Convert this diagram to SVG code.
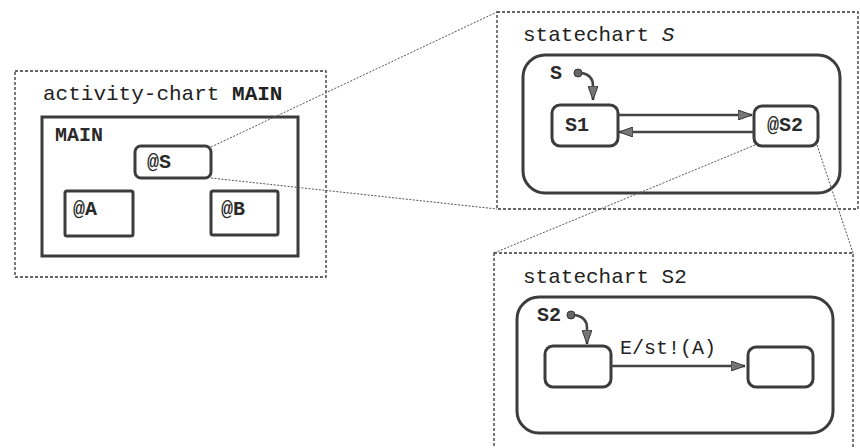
<svg xmlns="http://www.w3.org/2000/svg" width="860" height="448" viewBox="0 0 860 448">
  <style>
    .frame { fill: none; stroke: #333; stroke-width: 1.3; stroke-dasharray: 3 2; }
    .box { fill: #fff; stroke: #3c3c3c; stroke-width: 3; }
    .link { fill: none; stroke: #555; stroke-width: 1; stroke-dasharray: 2 1.5; }
    .flow { fill: none; stroke: #444; stroke-width: 2.6; }
    .title { font-family: "Liberation Mono", "Courier New", monospace; font-size: 21px; fill: #222; }
    .lbl { font-family: "Liberation Mono", "Courier New", monospace; font-size: 20px; font-weight: bold; fill: #2a2a2a; }
    .evt { font-family: "Liberation Mono", "Courier New", monospace; font-size: 20px; fill: #222; }
    .dot { fill: #666; stroke: #333; stroke-width: 1; }
  </style>
  <defs>
    <marker id="head" viewBox="0 0 14 10" refX="14" refY="5" markerWidth="14" markerHeight="10" markerUnits="userSpaceOnUse" orient="auto">
      <path d="M0,0 L14,5 L0,10 z" fill="#777" stroke="#333" stroke-width="1"/>
    </marker>
  </defs>
  <rect width="860" height="448" fill="#fff"/>

  <!-- activity-chart MAIN -->
  <g id="activity-main">
    <rect class="frame" x="15" y="71" width="311" height="206"/>
    <text class="title" x="43" y="100">activity-chart <tspan font-weight="bold">MAIN</tspan></text>
    <rect class="box" x="42" y="117" width="256" height="139"/>
    <text class="lbl" x="55" y="141">MAIN</text>
  </g>
  <g id="node-S">
    <rect class="box" x="135" y="146" width="76" height="32" rx="6"/>
    <text class="lbl" x="147" y="168">@S</text>
  </g>
  <g id="node-A">
    <rect class="box" x="65" y="191" width="68" height="45" rx="2"/>
    <text class="lbl" x="73" y="215">@A</text>
  </g>
  <g id="node-B">
    <rect class="box" x="211" y="191" width="67" height="44" rx="2"/>
    <text class="lbl" x="221" y="215">@B</text>
  </g>

  <!-- statechart S -->
  <g id="statechart-S">
    <rect class="frame" x="497" y="12" width="361" height="197"/>
    <text class="title" x="523" y="41">statechart <tspan font-style="italic">S</tspan></text>
    <rect class="box" x="523" y="55" width="317" height="138" rx="22"/>
    <text class="lbl" x="550" y="79">S</text>
    <circle class="dot" cx="578" cy="73" r="4"/>
  </g>
  <g id="node-S1">
    <rect class="box" x="552" y="105" width="66" height="41" rx="8"/>
    <text class="lbl" x="565" y="131">S1</text>
  </g>
  <g id="node-S2ref">
    <rect class="box" x="754" y="106" width="64" height="40" rx="8"/>
    <text class="lbl" x="767" y="131">@S2</text>
  </g>

  <!-- statechart S2 -->
  <g id="statechart-S2">
    <rect class="frame" x="494" y="253" width="359" height="210"/>
    <text class="title" x="523" y="283">statechart S2</text>
    <rect class="box" x="517" y="297" width="316" height="136" rx="22"/>
    <text class="lbl" x="537" y="321">S2</text>
    <circle class="dot" cx="571" cy="315" r="4"/>
  </g>
  <g id="node-S2a">
    <rect class="box" x="545" y="346" width="66" height="41" rx="8"/>
  </g>
  <g id="node-S2b">
    <rect class="box" x="748" y="347" width="65" height="40" rx="8"/>
  </g>

  <g id="connectors">
    <!-- refinement links -->
    <line class="link" x1="211" y1="147" x2="497" y2="12"/>
    <line class="link" x1="211" y1="178" x2="497" y2="209"/>
    <line class="link" x1="755" y1="145" x2="494" y2="253"/>
    <line class="link" x1="817" y1="145" x2="853" y2="253"/>
    <!-- transitions -->
    <path class="flow" d="M582,73 Q593,75 593,86 L593,100" marker-end="url(#head)"/>
    <line class="flow" x1="618" y1="115" x2="752" y2="115" marker-end="url(#head)"/>
    <line class="flow" x1="754" y1="132" x2="619" y2="132" marker-end="url(#head)"/>
    <path class="flow" d="M575,315 Q587,317 587,328 L587,344" marker-end="url(#head)"/>
    <line class="flow" x1="611" y1="366" x2="745" y2="366" marker-end="url(#head)"/>
    <text class="evt" x="620" y="354">E/st!(A)</text>
  </g>
</svg>
